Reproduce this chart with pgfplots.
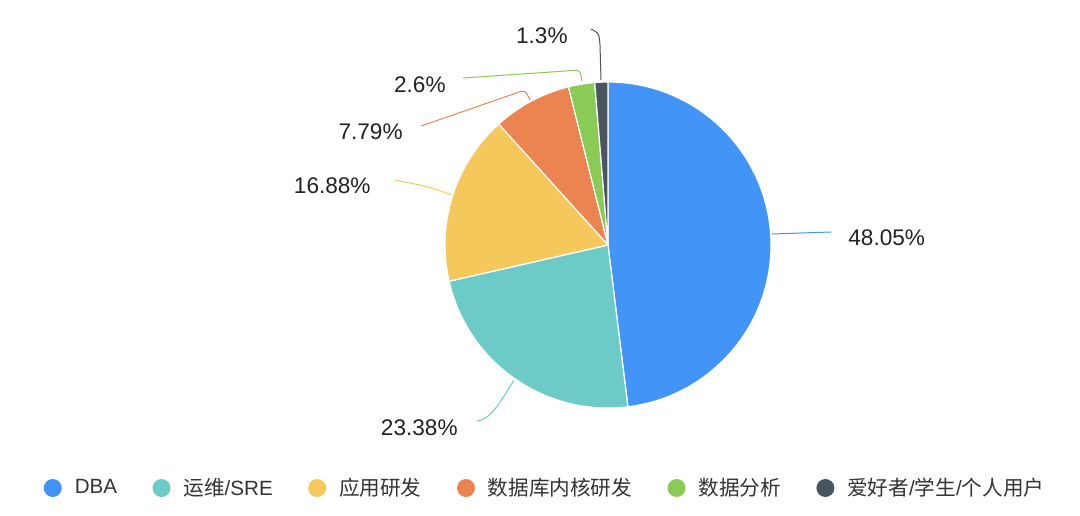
\documentclass[border=0pt]{standalone}
\usepackage{fontspec}
\setmainfont{Liberation Sans}
\newfontfamily\cjk{Noto Sans CJK SC}
\usepackage{pgfplots}
\usepackage{pgfplotstable}
\pgfplotsset{compat=1.18}
\definecolor{cDBA}{HTML}{4294F6}
\definecolor{cSRE}{HTML}{6CCBC7}
\definecolor{cApp}{HTML}{F5C85C}
\definecolor{cKer}{HTML}{EC8452}
\definecolor{cAna}{HTML}{8ACB55}
\definecolor{cHob}{HTML}{4A555F}
\definecolor{labtext}{HTML}{222222}
\definecolor{legtext}{HTML}{333333}

\pgfplotstableread{
pct col
48.05 cDBA
23.38 cSRE
16.88 cApp
7.79 cKer
2.6 cAna
1.3 cHob
}\pietable

\begin{document}
\begin{tikzpicture}
\begin{axis}[
  scale only axis, width=540pt, height=257.5pt,
  xmin=0, xmax=1080, ymin=0, ymax=515,
  hide axis, clip=false,
  legend columns=6,
  legend style={draw=none, fill=none, at={(axis cs:546,27)}, anchor=center,
    font=\fontsize{10.3}{12}\selectfont, text=legtext,
    /tikz/every even column/.append style={column sep=15.7pt}},
  legend image code/.code={\fill (4.5pt,0pt) circle (4.5pt); \path (13.5pt,0pt);},
]
\path (axis cs:0,0) rectangle (axis cs:1080,515);
\gdef\cum{0}
\pgfplotsinvokeforeach{0,...,5}{
  \pgfplotsextra{
    \pgfplotstablegetelem{#1}{pct}\of\pietable \let\slicepct\pgfplotsretval
    \pgfplotstablegetelem{#1}{col}\of\pietable \let\slicecol\pgfplotsretval
    \pgfmathsetmacro\aS{90-3.6*\cum}
    \pgfmathsetmacro\aE{90-3.6*(\cum+\slicepct)}
    \fill[fill=\slicecol, draw=white, line width=0.6pt, line join=round]
      (axis cs:608,270) -- ([shift={(\aS:81.5pt)}]axis cs:608,270)
      arc[start angle=\aS, end angle=\aE, radius=81.5pt] -- cycle;
    \pgfmathsetmacro\tmp{\cum+\slicepct}\xdef\cum{\tmp}
  }
}
% leader lines
\draw[cDBA, line width=0.5pt] (axis cs:772,281) -- (axis cs:831,283);
\draw[cSRE, line width=0.5pt] (axis cs:514,135) .. controls (axis cs:500,112) and (axis cs:490,95) .. (axis cs:477,94);
\draw[cApp, line width=0.5pt] (axis cs:452,320) .. controls (axis cs:430,328) .. (axis cs:395,335);
\draw[cKer, line width=0.5pt, rounded corners=2pt] (axis cs:530,415) -- (axis cs:525,425) -- (axis cs:421,389);
\draw[cAna, line width=0.5pt, rounded corners=2pt] (axis cs:582,434) -- (axis cs:580,445) -- (axis cs:463,437);
\draw[cHob, line width=0.5pt] (axis cs:601,435) -- (axis cs:600,470) .. controls (axis cs:599,482) .. (axis cs:591,486);
% labels
\begin{scope}[every node/.style={inner sep=0pt, text=labtext, font=\fontsize{11.3}{13}\selectfont}]
\node[anchor=west] at (axis cs:848,277) {48.05\%};
\node[anchor=east] at (axis cs:458,87) {23.38\%};
\node[anchor=east] at (axis cs:371,329) {16.88\%};
\node[anchor=east] at (axis cs:403,383) {7.79\%};
\node[anchor=east] at (axis cs:446,430) {2.6\%};
\node[anchor=east] at (axis cs:568,479) {1.3\%};
\end{scope}
% legend
\addlegendimage{fill=cDBA, draw=none}
\addlegendentry{DBA}
\addlegendimage{fill=cSRE, draw=none}
\addlegendentry{{\cjk 运维}/SRE}
\addlegendimage{fill=cApp, draw=none}
\addlegendentry{{\cjk 应用研发}}
\addlegendimage{fill=cKer, draw=none}
\addlegendentry{{\cjk 数据库内核研发}}
\addlegendimage{fill=cAna, draw=none}
\addlegendentry{{\cjk 数据分析}}
\addlegendimage{fill=cHob, draw=none}
\addlegendentry{{\cjk 爱好者}/{\cjk 学生}/{\cjk 个人用户}}
\end{axis}
\end{tikzpicture}
\end{document}
